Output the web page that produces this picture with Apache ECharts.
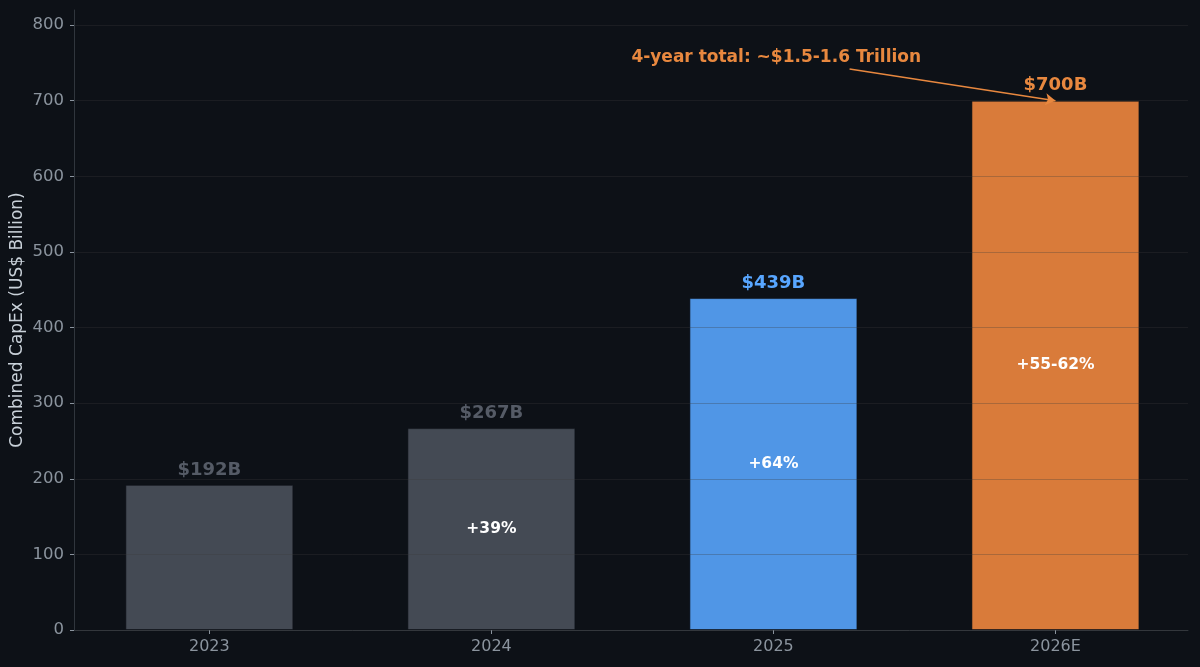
<!DOCTYPE html>
<html>
<head>
<meta charset="utf-8">
<script src="https://cdn.jsdelivr.net/npm/echarts@6/dist/echarts.min.js"></script>
<style>
  html, body { margin: 0; padding: 0; background: #0d1117; }
  #chart { width: 1200px; height: 667px; }
</style>
</head>
<body>
<div id="chart"></div>
<script>
// data
const years = ['2023', '2024', '2025', '2026E']
const capex = [192, 267, 439, 700]
const valueLabels = ['$192B', '$267B', '$439B', '$700B']
const growthLabels = ['', '+39%', '+64%', '+55-62%']
const yTicks = [0, 100, 200, 300, 400, 500, 600, 700, 800]

const barColors = ['#444a54', '#444a54', '#5096e6', '#d97b3a']
const labelColors = ['#555b66', '#555b66', '#58a6ff', '#e8883f']

const note = '4-year total: ~$1.5-1.6 Trillion'
const noteAt = [2.01, 757]      // text anchor, data units
const arrowFrom = [2.27, 742]   // arrow tail, data units

const chart = echarts.init(document.getElementById('chart'))
const font = '"DejaVu Sans", sans-serif'

const option = {
  backgroundColor: '#0d1117',
  animation: false,
  grid: { left: 74, right: 12, top: 10, bottom: 37, containLabel: false, outerBoundsMode: 'none' },
  xAxis: {
    type: 'value',
    min: -0.48,
    max: 3.47,
    splitLine: { show: false },
    axisLine: { show: true, onZero: false, lineStyle: { color: '#30363d', width: 1 } },
    axisTick: { show: true, customValues: [0, 1, 2, 3], length: 4, lineStyle: { color: '#8b949e' } },
    axisLabel: {
      customValues: [0, 1, 2, 3],
      formatter: v => years[Math.round(v)] || '',
      color: '#8b949e', fontSize: 16, fontFamily: font, margin: 9
    }
  },
  yAxis: {
    type: 'value',
    min: 0,
    max: 820,
    z: 3,
    name: 'Combined CapEx (US$ Billion)',
    nameLocation: 'middle',
    nameGap: 48,
    nameMoveOverlap: false,
    nameTextStyle: { color: '#c9d1d9', fontSize: 17, fontFamily: font },
    axisLine: { show: true, onZero: false, lineStyle: { color: '#30363d' } },
    axisTick: { show: true, customValues: yTicks, length: 4, lineStyle: { color: '#8b949e' } },
    axisLabel: {
      customValues: yTicks,
      color: '#8b949e', fontSize: 16.5, fontFamily: font, margin: 10
    },
    splitLine: { show: true, lineStyle: { color: 'rgba(60,60,60,0.3)', width: 1 } }
  },
  series: [
    {
      type: 'bar',
      barWidth: 168,
      data: capex.map((v, i) => ({
        value: [i, v],
        itemStyle: { color: barColors[i], borderColor: 'rgba(13,17,23,0.6)', borderWidth: 1 },
        label: {
          show: true, position: 'top', distance: 6,
          formatter: valueLabels[i],
          color: labelColors[i], fontSize: 18, fontWeight: 'bold', fontFamily: font
        }
      })),
      markPoint: {
        symbol: 'circle', symbolSize: 0,
        data: [{
          coord: noteAt,
          label: {
            show: true, position: 'inside', formatter: note,
            color: '#e8883f', fontSize: 17, fontWeight: 'bold', fontFamily: font
          }
        }]
      },
      markLine: {
        silent: true,
        symbol: ['none', 'arrow'],
        symbolSize: [9, 10],
        label: { show: false },
        lineStyle: { color: '#e8883f', width: 1.6, type: 'solid' },
        data: [[{ coord: arrowFrom }, { coord: [3, capex[3]] }]]
      }
    },
    {
      // growth labels, centred inside the bars
      type: 'bar',
      barWidth: 168,
      barGap: '-100%',
      z: 4,
      itemStyle: { color: 'transparent' },
      data: capex.map((v, i) => ({
        value: [i, v],
        label: {
          show: growthLabels[i] !== '', position: 'inside',
          formatter: growthLabels[i],
          color: '#ffffff', fontSize: 15.5, fontWeight: 'bold', fontFamily: font
        }
      }))
    }
  ]
}

chart.setOption(option)
</script>
</body>
</html>
